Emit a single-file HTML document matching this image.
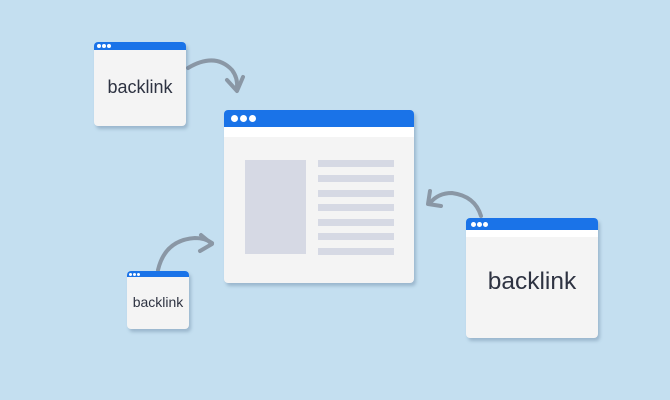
<!DOCTYPE html>
<html><head><style>
body{margin:0;width:670px;height:400px;background:#c4dff0;position:relative;overflow:hidden;font-family:"Liberation Sans",sans-serif}
.w{position:absolute;background:#f4f4f4;border-radius:4px;box-shadow:2px 3px 3px rgba(80,110,140,.35);overflow:hidden}
.h{background:#1a73e8;position:relative}
.d{position:absolute;background:#fff;border-radius:50%}
.t{position:absolute;left:0;right:0;text-align:center;color:#2e3342}
.g{position:absolute;background:#d6d9e4}
</style></head><body>
<svg width="670" height="400" style="position:absolute;left:0;top:0">
<g fill="none" stroke="#8a97a5" stroke-width="4" stroke-linecap="round" stroke-linejoin="round">
<path d="M188 68 Q215 52 232 70 Q238 78 237 88"/>
<path d="M227 80 L237 91 L243 77"/>
<path d="M158 270 Q165 240 195 238 Q205 238 212 243"/>
<path d="M201 235 L212 244 L200 251"/>
<path d="M481 216 Q475 196 452 193 Q438 193 430 203"/>
<path d="M430 191 L428 204 L441 206"/>
</g></svg>

<div class="w" style="left:94px;top:42px;width:92px;height:84px">
<div class="h" style="height:8px"><i class="d" style="left:3px;top:2px;width:4px;height:4px"></i><i class="d" style="left:8px;top:2px;width:4px;height:4px"></i><i class="d" style="left:13px;top:2px;width:4px;height:4px"></i></div>
<div class="t" style="top:35px;font-size:18px">backlink</div></div>

<div class="w" style="left:224px;top:110px;width:190px;height:173px">
<div class="h" style="height:17px"><i class="d" style="left:7px;top:5px;width:7px;height:7px"></i><i class="d" style="left:16px;top:5px;width:7px;height:7px"></i><i class="d" style="left:25px;top:5px;width:7px;height:7px"></i></div>
<div style="height:10px;background:#fff"></div>
<div class="g" style="left:21px;top:50px;width:61px;height:94px"></div>
<div class="g" style="left:94px;top:50px;width:76px;height:7px"></div>
<div class="g" style="left:94px;top:65px;width:76px;height:7px"></div>
<div class="g" style="left:94px;top:80px;width:76px;height:7px"></div>
<div class="g" style="left:94px;top:94px;width:76px;height:7px"></div>
<div class="g" style="left:94px;top:109px;width:76px;height:7px"></div>
<div class="g" style="left:94px;top:123px;width:76px;height:7px"></div>
<div class="g" style="left:94px;top:138px;width:76px;height:7px"></div>
</div>

<div class="w" style="left:127px;top:271px;width:62px;height:58px">
<div class="h" style="height:6px"><i class="d" style="left:2px;top:1.5px;width:3px;height:3px"></i><i class="d" style="left:6px;top:1.5px;width:3px;height:3px"></i><i class="d" style="left:10px;top:1.5px;width:3px;height:3px"></i></div>
<div class="t" style="top:23px;font-size:14px">backlink</div></div>

<div class="w" style="left:466px;top:218px;width:132px;height:120px">
<div class="h" style="height:12px"><i class="d" style="left:5px;top:3.5px;width:5px;height:5px"></i><i class="d" style="left:11px;top:3.5px;width:5px;height:5px"></i><i class="d" style="left:17px;top:3.5px;width:5px;height:5px"></i></div>
<div style="height:7px;background:#fff"></div>
<div class="t" style="top:50px;font-size:24.5px">backlink</div></div>
</body></html>
